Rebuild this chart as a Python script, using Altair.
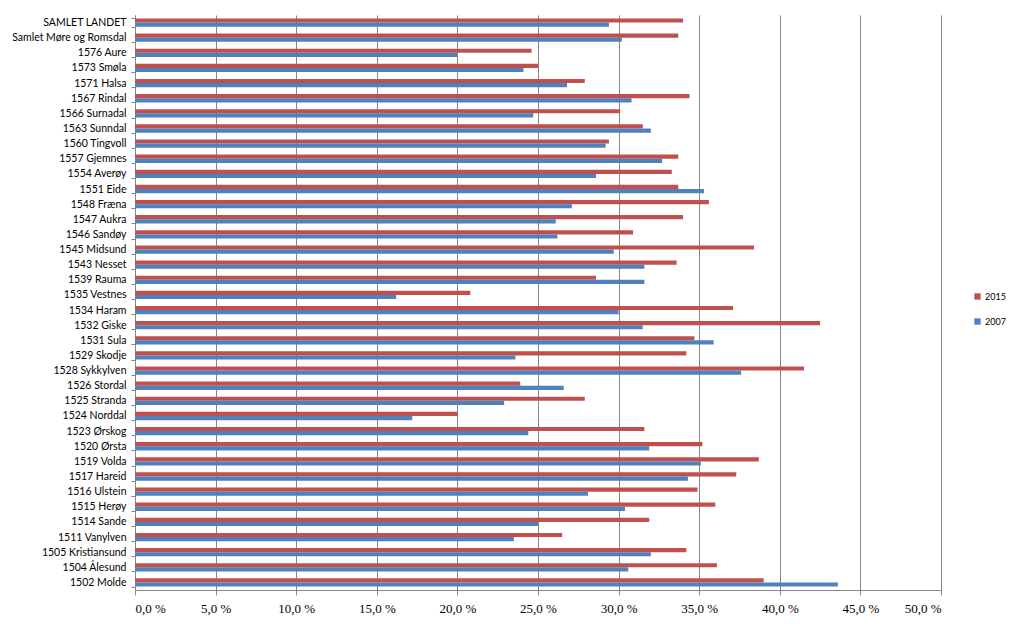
import altair as alt
import pandas as pd

categories = [
    "SAMLET LANDET", "Samlet Møre og Romsdal", "1576 Aure", "1573 Smøla", "1571 Halsa",
    "1567 Rindal", "1566 Surnadal", "1563 Sunndal", "1560 Tingvoll", "1557 Gjemnes",
    "1554 Averøy", "1551 Eide", "1548 Fræna", "1547 Aukra", "1546 Sandøy",
    "1545 Midsund", "1543 Nesset", "1539 Rauma", "1535 Vestnes", "1534 Haram",
    "1532 Giske", "1531 Sula", "1529 Skodje", "1528 Sykkylven", "1526 Stordal",
    "1525 Stranda", "1524 Norddal", "1523 Ørskog", "1520 Ørsta", "1519 Volda",
    "1517 Hareid", "1516 Ulstein", "1515 Herøy", "1514 Sande", "1511 Vanylven",
    "1505 Kristiansund", "1504 Ålesund", "1502 Molde",
]

values_2015 = [
    34.0, 33.7, 24.6, 25.0, 27.9,
    34.4, 30.1, 31.5, 29.4, 33.7,
    33.3, 33.7, 35.6, 34.0, 30.9,
    38.4, 33.6, 28.6, 20.8, 37.1,
    42.5, 34.7, 34.2, 41.5, 23.9,
    27.9, 20.0, 31.6, 35.2, 38.7,
    37.3, 34.9, 36.0, 31.9, 26.5,
    34.2, 36.1, 39.0,
]

values_2007 = [
    29.4, 30.2, 20.0, 24.1, 26.8,
    30.8, 24.7, 32.0, 29.2, 32.7,
    28.6, 35.3, 27.1, 26.1, 26.2,
    29.7, 31.6, 31.6, 16.2, 30.0,
    31.5, 35.9, 23.6, 37.6, 26.6,
    22.9, 17.2, 24.4, 31.9, 35.1,
    34.3, 28.1, 30.4, 25.0, 23.5,
    32.0, 30.6, 43.6,
]

series = ["2015", "2007"]
colors = ["#C0504D", "#4F81BD"]

rows = []
for c, v15, v07 in zip(categories, values_2015, values_2007):
    rows.append({"kommune": c, "year": "2015", "value": v15})
    rows.append({"kommune": c, "year": "2007", "value": v07})
df = pd.DataFrame(rows)

font = "Lato"
grid_col = "#868686"

chart = alt.Chart(df).mark_bar().encode(
    y=alt.Y(
        "kommune:N",
        sort=categories,
        title=None,
        scale=alt.Scale(paddingInner=0.45, paddingOuter=0.225),
        axis=alt.Axis(
            labelFont=font, labelFontSize=10.5, labelColor="#000000",
            labelPadding=5, tickBand="extent", tickSize=4, labelLimit=200,
            tickColor=grid_col, domainColor=grid_col, grid=False,
        ),
    ),
    yOffset=alt.YOffset("year:N", sort=series),
    x=alt.X(
        "value:Q",
        title=None,
        scale=alt.Scale(domain=[0, 50], nice=False),
        axis=alt.Axis(
            values=[0, 5, 10, 15, 20, 25, 30, 35, 40, 45, 50],
            labelExpr="replace(format(datum.value, '.1f'), '.', ',') + ' %'",
            labelFont="Liberation Sans Narrow", labelFontSize=13, labelColor="#000000",
            labelPadding=7, tickSize=5, tickColor=grid_col, domainColor=grid_col,
            grid=True, gridColor=grid_col, gridWidth=1, gridOpacity=1,
        ),
    ),
    color=alt.Color(
        "year:N",
        scale=alt.Scale(domain=series, range=colors),
        legend=alt.Legend(
            title=None, orient="none", legendX=838, legendY=277,
            symbolType="square", symbolSize=40, symbolStrokeWidth=0,
            labelFont=font, labelFontSize=9, labelColor="#000000",
            rowPadding=15, labelOffset=3,
        ),
    ),
).properties(
    width=806,
    height=575,
    padding={"left": 127, "top": 7, "right": 75, "bottom": 27},
    autosize=alt.AutoSizeParams(type="none"),
    background="#ffffff",
).configure_view(strokeWidth=0)

chart.save("out.html", embed_options={"renderer": "svg", "actions": False})
